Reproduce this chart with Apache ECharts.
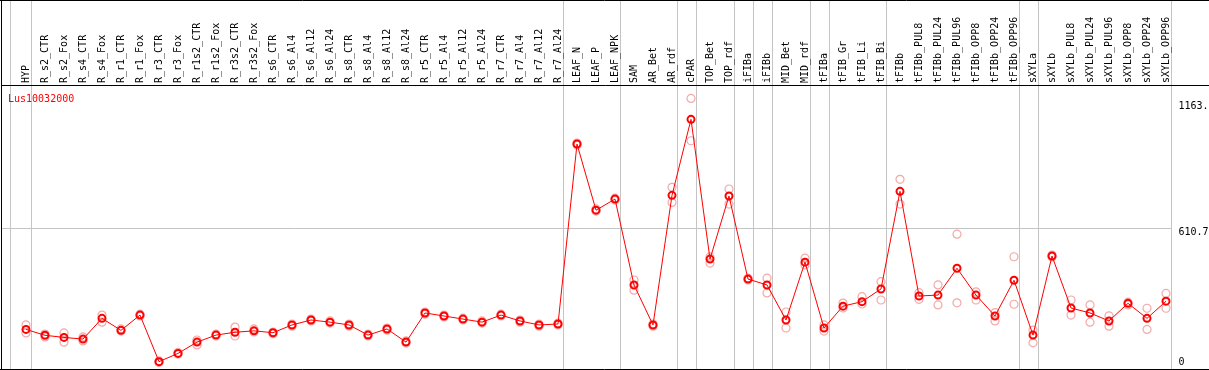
<!DOCTYPE html>
<html>
<head>
<meta charset="utf-8">
<script src="https://cdn.jsdelivr.net/npm/echarts@6/dist/echarts.min.js"></script>
<style>
html,body{margin:0;padding:0;background:#fff;}
#chart{width:1209px;height:370px;}
</style>
</head>
<body>
<div id="chart"></div>
<script>
const categories = ['HYP','R_s2_CTR','R_s2_Fox','R_s4_CTR','R_s4_Fox','R_r1_CTR','R_r1_Fox','R_r3_CTR','R_r3_Fox','R_r1s2_CTR','R_r1s2_Fox','R_r3s2_CTR','R_r3s2_Fox','R_s6_CTR','R_s6_Al4','R_s6_Al12','R_s6_Al24','R_s8_CTR','R_s8_Al4','R_s8_Al12','R_s8_Al24','R_r5_CTR','R_r5_Al4','R_r5_Al12','R_r5_Al24','R_r7_CTR','R_r7_Al4','R_r7_Al12','R_r7_Al24','LEAF_N','LEAF_P','LEAF_NPK','SAM','AR_Bet','AR_rdf','cPAR','TOP_Bet','TOP_rdf','iFIBa','iFIBb','MID_Bet','MID_rdf','tFIBa','tFIB_Gr','tFIB_Li','tFIB_Bi','tFIBb','tFIBb_PUL8','tFIBb_PUL24','tFIBb_PUL96','tFIBb_OPP8','tFIBb_OPP24','tFIBb_OPP96','sXYLa','sXYLb','sXYLb_PUL8','sXYLb_PUL24','sXYLb_PUL96','sXYLb_OPP8','sXYLb_OPP24','sXYLb_OPP96'];

const meanValues = [181,156,147,140,228,177,242,44,79,127,157,169,175,167,200,221,212,200,157,183,127,251,238,225,212,242,217,200,204,969,688,735,370,200,751,1074,480,748,395,370,221,467,187,280,299,353,768,323,327,441,327,238,390,157,493,272,251,217,292,228,301];

const replicate1 = [200,161,166,149,242,183,246,47,83,136,161,191,183,170,204,225,217,204,161,187,132,255,242,229,217,246,221,204,208,973,693,739,391,204,785,1163,489,778,399,399,255,484,200,293,320,384,819,337,370,586,341,252,490,178,497,306,285,239,297,271,334];

const replicate2 = [166,149,127,132,212,174,238,40,76,115,153,153,170,163,195,217,208,195,153,178,123,246,234,221,208,238,212,195,200,965,684,731,348,195,721,983,463,714,391,336,187,455,174,272,289,306,714,309,285,294,306,217,288,124,489,242,212,195,285,181,271];

const yTickValues = [0, 610.7, 1163];
const yTickLabels = ['0', '610.7', '1163.'];
const groupBreaks = [-0.85, 0.25, 28.25, 31.25, 34.25, 35.25, 37.25, 38.25, 39.25, 41.25, 42.25, 45.25, 52.25, 53.25, 60.25];
const seriesName = 'Lus10032000';

const FONT = 'DejaVu Sans Mono';
const chart = echarts.init(document.getElementById('chart'), null, {renderer: 'canvas'});

const lineData = meanValues.map((v, i) => [i, v]);
const repData = [];
categories.forEach((c, i) => { repData.push([i, replicate1[i]]); repData.push([i, replicate2[i]]); });

const option = {
  animation: false,
  backgroundColor: '#fff',
  title: {
    text: seriesName, left: 8, top: 94, padding: 0,
    textStyle: {color: '#ff0000', fontFamily: FONT, fontSize: 10, fontWeight: 'normal'}
  },
  grid: {left: 7, top: 85, width: 1168.5, height: 287, outerBoundsMode: 'none', containLabel: false},
  xAxis: {
    type: 'value', position: 'top', min: -1, max: 60.5, interval: 1,
    axisLine: {show: false}, axisTick: {show: false}, splitLine: {show: false},
    axisLabel: {
      rotate: 90, margin: 2, fontFamily: FONT, fontSize: 10, color: '#000',
      showMinLabel: true, showMaxLabel: true, hideOverlap: false,
      formatter: v => (Number.isInteger(v) && v >= 0 && v < categories.length) ? categories[v] : ''
    }
  },
  yAxis: {
    type: 'value', position: 'right', min: 0, max: 1220,
    axisLine: {show: false}, axisTick: {show: false}, splitLine: {show: false},
    axisLabel: {
      customValues: yTickValues, margin: 3, align: 'left', verticalAlign: 'middle',
      fontFamily: FONT, fontSize: 10, color: '#000', hideOverlap: false,
      formatter: v => {
        let k = 0;
        yTickValues.forEach((t, j) => { if (Math.abs(t - v) < Math.abs(yTickValues[k] - v)) k = j; });
        return '{l' + k + '|' + yTickLabels[k] + '}';
      },
      rich: {
        l0: {fontFamily: FONT, fontSize: 10, color: '#000', padding: [0, 0, 20, 0]},
        l1: {fontFamily: FONT, fontSize: 10, color: '#000', padding: [8, 0, 0, 0]},
        l2: {fontFamily: FONT, fontSize: 10, color: '#000', padding: [15, 0, 0, 0]}
      }
    }
  },
  series: [
    {
      name: 'replicates', type: 'scatter', data: repData, z: 2,
      symbol: 'circle', symbolSize: 8,
      itemStyle: {color: 'rgba(255,255,255,0)', borderColor: '#f09494', borderWidth: 1.2}
    },
    {
      name: seriesName, type: 'line', data: lineData, z: 3,
      symbol: 'circle', symbolSize: 7, showSymbol: true, showAllSymbol: true,
      itemStyle: {color: 'rgba(255,255,255,0)', borderColor: '#ff0000', borderWidth: 2},
      lineStyle: {color: '#ff0000', width: 1}
    }
  ]
};
chart.setOption(option);

// separators & frame derived from the axes' scales
const px = v => Math.round(chart.convertToPixel({xAxisIndex: 0}, v)) + 0.5;
const py = v => Math.round(chart.convertToPixel({yAxisIndex: 0}, v)) + 0.5;
const gray = '#c4c4c4';
const elements = [];
groupBreaks.forEach(b => {
  const x = px(b);
  elements.push({type: 'line', z: 0, silent: true, shape: {x1: x, y1: 0, x2: x, y2: 369}, style: {stroke: gray, lineWidth: 1}});
});
const yMid = py(yTickValues[1]);
elements.push({type: 'line', z: 0, silent: true, shape: {x1: 2, y1: yMid, x2: px(groupBreaks[groupBreaks.length - 1]), y2: yMid}, style: {stroke: gray, lineWidth: 1}});
const gridTop = Math.round(chart.convertToPixel({yAxisIndex: 0}, 1220)) + 0.5;
const black = {stroke: '#000', lineWidth: 1};
elements.push({type: 'line', z: 10, silent: true, shape: {x1: 1.5, y1: gridTop, x2: 1209, y2: gridTop}, style: black});
elements.push({type: 'line', z: 10, silent: true, shape: {x1: 0, y1: 0.5, x2: 1209, y2: 0.5}, style: black});
elements.push({type: 'line', z: 10, silent: true, shape: {x1: 1.5, y1: 0, x2: 1.5, y2: 370}, style: black});
elements.push({type: 'line', z: 10, silent: true, shape: {x1: 0, y1: 369.5, x2: 1209, y2: 369.5}, style: black});
chart.setOption({graphic: {elements: elements}});
</script>
</body>
</html>
